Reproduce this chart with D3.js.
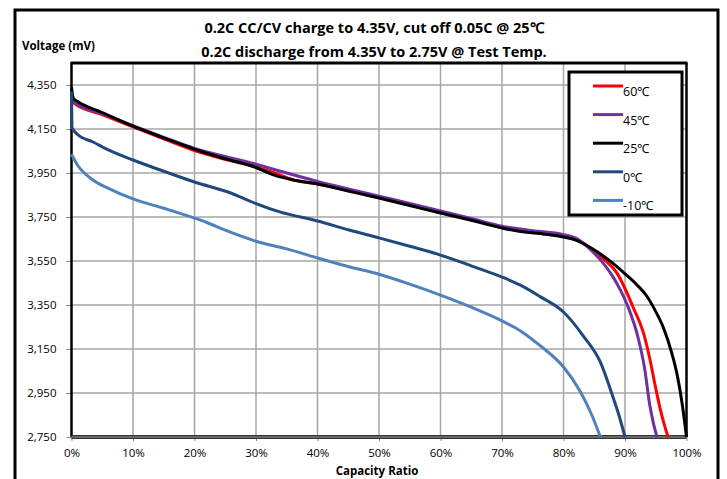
<!DOCTYPE html>
<html>
<head>
<meta charset="utf-8">
<script src="https://cdn.jsdelivr.net/npm/d3@7"></script>
<style>
  body { margin: 0; background: #fff; }
  text { font-family: "Open Sans", "Liberation Sans", sans-serif; }
</style>
</head>
<body>
<div id="chart"></div>
<script>
// data: [capacity %, voltage mV]
var series60 = [[0,4290],[0.4,4268],[5,4215],[10,4160],[15,4105],[20,4052],[25,4012],[30,3978],[33,3950],[36,3920],[40,3900],[45,3870],[50,3838],[55,3804],[60,3770],[65,3737],[70,3702],[75,3682],[80,3664],[82,3652],[84.3,3609],[86.5,3560],[88.7,3495],[90,3425],[91.3,3341],[93,3223],[94,3110],[94.9,2985],[95.7,2880],[96.4,2805],[97,2750]];
var series45 = [[0,4300],[0.4,4272],[5,4220],[10,4165],[15,4112],[20,4062],[25,4025],[30,3990],[35,3950],[40,3912],[45,3878],[50,3845],[55,3812],[60,3778],[65,3743],[70,3708],[75,3688],[80,3670],[82,3654],[84,3612],[86,3555],[88,3480],[89.3,3415],[90.5,3341],[92.1,3205],[93.2,3060],[94,2900],[94.6,2815],[95.2,2750]];
var series25 = [[0,4340],[0.3,4290],[1,4275],[5,4225],[10,4163],[15,4110],[20,4058],[25,4015],[30,3975],[33,3940],[36,3918],[40,3900],[45,3868],[50,3836],[55,3802],[60,3768],[65,3735],[70,3700],[73,3684],[77,3672],[80,3659],[82,3645],[83.5,3625],[85.6,3590],[88,3540],[90,3492],[92,3440],[93.5,3392],[95,3320],[96.2,3250],[97.6,3132],[98.5,3030],[99.3,2900],[100,2750]];
var series0 = [[0,4320],[0.1,4155],[1,4125],[3.5,4091],[6,4055],[10,4009],[15,3958],[20,3909],[26,3858],[29,3822],[34,3772],[40,3732],[45,3692],[50,3655],[55,3617],[60,3577],[65,3528],[70,3477],[73,3440],[76.2,3388],[80,3318],[83.2,3210],[86,3090],[88,2935],[89,2850],[90,2750]];
var seriesM10 = [[0,4035],[1,3985],[3.5,3918],[6,3880],[10,3832],[15,3790],[20,3745],[22,3725],[25,3690],[30,3640],[35,3605],[40,3564],[45,3525],[50,3490],[55,3445],[60,3395],[65,3340],[70,3278],[73,3232],[76.2,3165],[80,3068],[82.7,2958],[84.6,2850],[86,2750]];

var seriesNames = ["60℃","45℃","25℃","0℃","-10℃"];
var seriesColors = ["#ff0000","#7030a0","#000000","#1f497d","#4f81bd"];
var allSeries = [series60, series45, series25, series0, seriesM10];

var yTicks = [2750,2950,3150,3350,3550,3750,3950,4150,4350];
var xTicks = [0,10,20,30,40,50,60,70,80,90,100];

var titleLines = ["0.2C CC/CV charge to 4.35V, cut off 0.05C @ 25℃",
                  "0.2C discharge from 4.35V to 2.75V @ Test Temp."];

function init(){
    var w = 727, h = 479;
    var svg = d3.select("#chart").append("svg")
                .attr("width", w)
                .attr("height", h);

    var left = 71.5, right = 686.5, top = 63, bottom = 437;

    var xScale = d3.scaleLinear().domain([0,100]).range([left,right]);
    var yScale = d3.scaleLinear().domain([2750,4450]).range([bottom,top]);

    // outer frame
    svg.append("rect")
        .attr("x",15).attr("y",10)
        .attr("width",703).attr("height",520)
        .attr("fill","none").attr("stroke","#000").attr("stroke-width",3);

    // gridlines
    svg.append("g").selectAll("line.v")
        .data(xTicks.slice(1,-1))
        .enter().append("line")
        .attr("x1",d=>xScale(d)).attr("x2",d=>xScale(d))
        .attr("y1",top).attr("y2",bottom)
        .attr("stroke","#a6a6a6").attr("stroke-width",1.5);
    svg.append("g").selectAll("line.h")
        .data(yTicks.slice(1))
        .enter().append("line")
        .attr("x1",left).attr("x2",right)
        .attr("y1",d=>yScale(d)).attr("y2",d=>yScale(d))
        .attr("stroke","#a6a6a6").attr("stroke-width",1.5);

    // axes
    var yAxis = svg.append("g")
        .attr("transform","translate("+left+",0)")
        .call(d3.axisLeft(yScale).tickValues(yTicks).tickFormat(d3.format(",")).tickSize(5).tickPadding(10));
    var xAxis = svg.append("g")
        .attr("transform","translate(0,"+bottom+")")
        .call(d3.axisBottom(xScale).tickValues(xTicks).tickFormat(d=>d+"%").tickSize(4).tickPadding(8));
    [yAxis,xAxis].forEach(a=>{
        a.select(".domain").remove();
        a.selectAll(".tick line").attr("stroke","#808080");
        a.selectAll("text").style("font-size","11.5px").attr("fill","#000");
    });

    // plot border
    svg.append("line").attr("x1",left-1).attr("x2",right+1).attr("y1",top).attr("y2",top)
        .attr("stroke","#000").attr("stroke-width",3);
    svg.append("line").attr("x1",left).attr("x2",left).attr("y1",top).attr("y2",bottom)
        .attr("stroke","#000").attr("stroke-width",2.5);
    svg.append("line").attr("x1",right).attr("x2",right).attr("y1",top).attr("y2",bottom)
        .attr("stroke","#000").attr("stroke-width",2.5);
    svg.append("line").attr("x1",left).attr("x2",right).attr("y1",bottom).attr("y2",bottom)
        .attr("stroke","#333").attr("stroke-width",4);
    svg.append("line").attr("x1",left).attr("x2",right).attr("y1",bottom).attr("y2",bottom)
        .attr("stroke","#bbb").attr("stroke-width",0.8);

    // series
    var line = d3.line()
        .x(d=>xScale(d[0]))
        .y(d=>yScale(d[1]))
        .curve(d3.curveMonotoneX);
    svg.append("g").selectAll("path")
        .data(allSeries)
        .enter().append("path")
        .attr("d",line)
        .attr("fill","none")
        .attr("stroke",(d,i)=>seriesColors[i])
        .attr("stroke-width",3)
        .attr("stroke-linejoin","round");

    // titles
    svg.selectAll(".title")
        .data(titleLines)
        .enter().append("text")
        .attr("class","title")
        .attr("x",374)
        .attr("y",(d,i)=>33+i*24)
        .attr("text-anchor","middle")
        .style("font-size","14.5px")
        .style("font-weight","bold")
        .text(d=>d);

    svg.append("text")
        .attr("x",22).attr("y",50)
        .style("font-size","11.5px").style("font-weight","bold")
        .text("Voltage (mV)");

    svg.append("text")
        .attr("x",377).attr("y",475)
        .attr("text-anchor","middle")
        .style("font-size","11.5px").style("font-weight","bold")
        .text("Capacity Ratio");

    // legend
    var lg = svg.append("g");
    lg.append("rect")
        .attr("x",569).attr("y",72)
        .attr("width",113).attr("height",143)
        .attr("fill","#fff").attr("stroke","#000").attr("stroke-width",3);
    var items = lg.selectAll(".item")
        .data(seriesNames)
        .enter().append("g")
        .attr("transform",(d,i)=>"translate(0,"+(86+i*28.6)+")");
    items.append("line")
        .attr("x1",593).attr("x2",623).attr("y1",0).attr("y2",0)
        .attr("stroke",(d,i)=>seriesColors[i]).attr("stroke-width",3);
    items.append("text")
        .attr("x",623).attr("y",10)
        .style("font-size","12.5px")
        .text(d=>d);
}
window.onload = init;
</script>
</body>
</html>
